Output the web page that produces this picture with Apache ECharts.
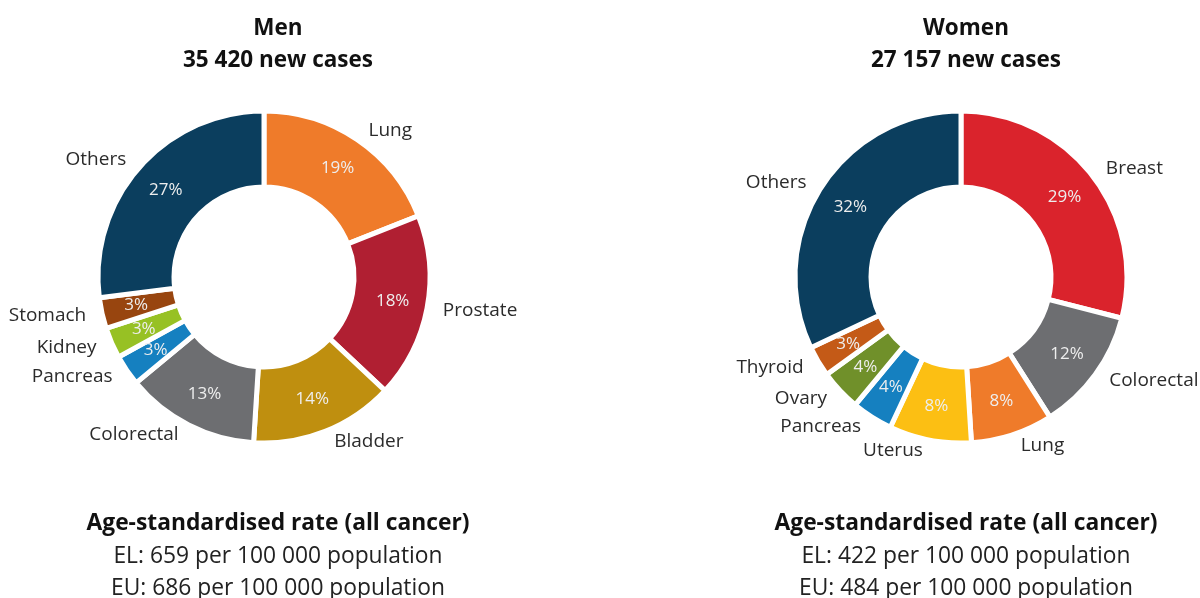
<!DOCTYPE html>
<html>
<head>
<meta charset="utf-8">
<script src="https://cdn.jsdelivr.net/npm/echarts@6/dist/echarts.min.js"></script>
<style>
html,body{margin:0;padding:0;background:#fff;}
#chart{width:1200px;height:598px;}
</style>
</head>
<body>
<div id="chart"></div>
<script>
const menCategories = ['Lung','Prostate','Bladder','Colorectal','Pancreas','Kidney','Stomach','Others'];
const menValues = [19,18,14,13,3,3,3,27];
const menColors = ['#EF7B2A','#B01F32','#BF8F0F','#6D6E71','#1580C0','#97C124','#98450F','#0B3E5E'];

const womenCategories = ['Breast','Colorectal','Lung','Uterus','Pancreas','Ovary','Thyroid','Others'];
const womenValues = [29,12,8,8,4,4,3,32];
const womenColors = ['#DA232C','#6D6E71','#EF7B2A','#FCBF13','#1580C0','#70902A','#C45A17','#0B3E5E'];

const menTitle = ['Men','35 420 new cases'];
const womenTitle = ['Women','27 157 new cases'];
const menFooter = ['Age-standardised rate (all cancer)','EL: 659 per 100 000 population','EU: 686 per 100 000 population'];
const womenFooter = ['Age-standardised rate (all cancer)','EL: 422 per 100 000 population','EU: 484 per 100 000 population'];

const FONT = '"Open Sans", "Noto Sans", sans-serif';

function mkData(cats, vals, colors){
  return cats.map((c,i)=>({name:c, value:vals[i], itemStyle:{color:colors[i]}}));
}
function pieSeries(cats, vals, colors, center){
  return [
    {
      type:'pie', center:center, radius:[90,166], startAngle:90, clockwise:true,
      silent:true, avoidLabelOverlap:false,
      itemStyle:{borderColor:'#fff', borderWidth:5},
      label:{show:true, position:'inside', formatter:'{c}%', color:'#EEEEEE', fontSize:17, fontFamily:FONT},
      labelLine:{show:false},
      data:mkData(cats, vals, colors)
    },
    {
      type:'pie', center:center, radius:[90,165], startAngle:90, clockwise:true,
      silent:true, avoidLabelOverlap:false,
      itemStyle:{color:'transparent', borderWidth:0},
      label:{show:true, position:'outside', formatter:'{b}', color:'#2B2B2B', fontSize:19, fontFamily:FONT, overflow:'none'},
      labelLine:{show:false, length:12, length2:0},
      data:cats.map((c,i)=>({name:c, value:vals[i]}))
    }
  ];
}
function titleBlock(lines, x, y){
  return {
    text: lines[0] + '\n' + lines[1], left:x, top:y, textAlign:'center', padding:0,
    textStyle:{fontFamily:FONT, fontWeight:'bold', fontSize:22.5, lineHeight:32, color:'#111'}
  };
}
function footerBlock(lines, x, y){
  return [
    {text: lines[0], left:x, top:y, textAlign:'center', padding:0,
     textStyle:{fontFamily:FONT, fontWeight:'bold', fontSize:22.8, lineHeight:30, color:'#111'}},
    {text: lines[1] + '\n' + lines[2], left:x, top:y+32, textAlign:'center', padding:0,
     textStyle:{fontFamily:FONT, fontWeight:'normal', fontSize:22.8, lineHeight:32, color:'#222'}}
  ];
}

const chart = echarts.init(document.getElementById('chart'));
chart.setOption({
  animation:false,
  title:[titleBlock(menTitle,278,13), titleBlock(womenTitle,966,13)]
    .concat(footerBlock(menFooter,278,509)).concat(footerBlock(womenFooter,966,509)),
  series: pieSeries(menCategories, menValues, menColors, [264,277])
    .concat(pieSeries(womenCategories, womenValues, womenColors, [961,277]))
});
</script>
</body>
</html>
